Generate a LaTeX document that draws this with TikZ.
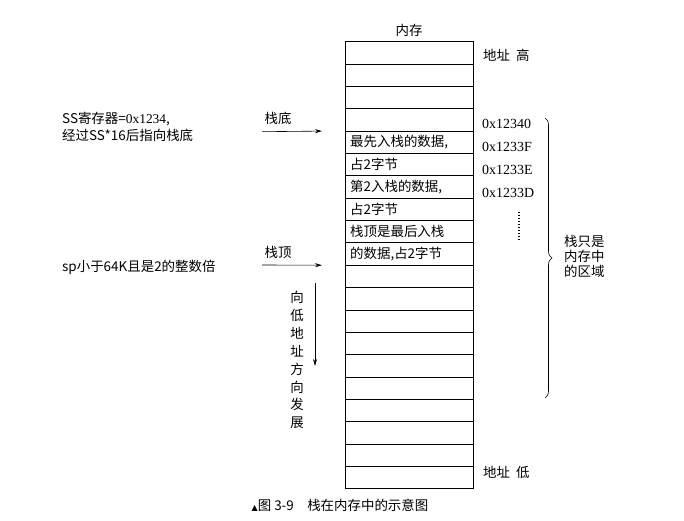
\documentclass[tikz,border=0pt]{standalone}
\usepackage{fontspec}
\setmainfont{Noto Sans CJK SC}
\newfontfamily\latinfont{Liberation Serif}
\newfontfamily\symfont{DejaVu Sans}
\usetikzlibrary{positioning,decorations.pathreplacing,arrows.meta}
\tikzset{
  cell/.style={draw,thick,minimum width=128bp,minimum height=22.35bp,inner sep=0pt,outer sep=0pt},
  celltext/.style={anchor=west,inner sep=0pt,font=\fontsize{13.5}{14}\selectfont},
  lbl/.style={inner sep=0pt,font=\fontsize{13.5}{14}\selectfont},
  addr/.style={anchor=west,inner sep=0pt,font=\latinfont\fontsize{14}{14}\selectfont},
  ptr/.style={-{Stealth[length=7bp,width=4bp]},semithick}
}
\begin{document}
\begin{tikzpicture}[x=1bp,y=-1bp]
  \useasboundingbox (0,0) rectangle (684,521);
  % memory column
  \foreach \i in {1,...,20} {
    \node[cell,anchor=north west] (m\i) at (345,{41.7+(\i-1)*22.35}) {};
  }
  \node[lbl,above=5bp of m1] (mem) {内存};
  \node[lbl,anchor=west] (hi) at (483,55) {地址\ \ 高};
  \node[lbl,anchor=west] (lo) at (483,472) {地址\ \ 低};
  % stack contents
  \node[celltext] (d1) at ([xshift=5bp]m5.west) {最先入栈的数据,};
  \node[celltext] (d2) at ([xshift=5bp]m6.west) {占2字节};
  \node[celltext] (d3) at ([xshift=5bp]m7.west) {第2入栈的数据,};
  \node[celltext] (d4) at ([xshift=5bp]m8.west) {占2字节};
  \node[celltext] (d5) at ([xshift=5bp]m9.west) {栈顶是最后入栈};
  \node[celltext] (d6) at ([xshift=5bp]m10.west) {的数据,占2字节};
  % addresses
  \node[addr] (a0) at (482,124) {0x12340};
  \node[addr] (a1) at (482,147) {0x1233F};
  \node[addr] (a2) at (482,170) {0x1233E};
  \node[addr] (a3) at (482,193) {0x1233D};
  \draw[line width=2pt,dash pattern=on 1pt off 2pt] (519,212) -- (519,241);
  % brace
  \coordinate (bt) at (545,118);
  \coordinate (bb) at (545,398);
  \draw[semithick,decorate,decoration={brace,amplitude=7bp}] (bt) -- (bb);
  \node[lbl,anchor=west,align=center] (area) at (564,256) {栈只是\\[1bp]内存中\\[1bp]的区域};
  % pointers
  \coordinate (bs) at (262,131.7);
  \coordinate (ts) at (262,265);
  \draw[ptr] (bs) -- (m5.north west -| 322,0);
  \draw[ptr] (ts) -- (m11.north west -| 322,0);
  \node[lbl] (bl) at (278,118) {栈底};
  \node[lbl] (tl) at (278,252) {栈顶};
  \node[lbl,anchor=west,align=left] (ss) at (62,127) {SS寄存器={\latinfont 0x1234},\\[3bp]经过SS*16后指向栈底};
  \node[lbl,anchor=west] (sp) at (62,267) {sp小于64K且是2的整数倍};
  % growth direction
  \node[lbl,align=center] (grow) at (297,360) {向\\[4bp]低\\[4bp]地\\[4bp]址\\[4bp]方\\[4bp]向\\[4bp]发\\[4bp]展};
  \coordinate (g1) at (315,283);
  \coordinate (g2) at (315,366);
  \draw[ptr] (g1) -- (g2);
  % caption
  \node[lbl] (cap) at (340,505) {{\symfont\fontsize{8}{9}\selectfont ▲}图 3-9\quad 栈在内存中的示意图};
\end{tikzpicture}
\end{document}
